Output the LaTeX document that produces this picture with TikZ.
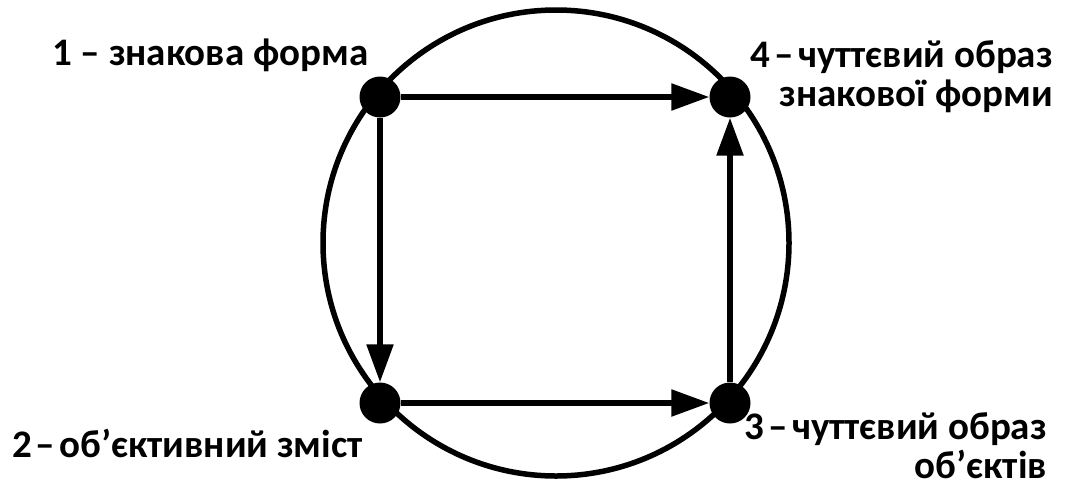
\documentclass[tikz,border=0pt]{standalone}
\usepackage{fontspec}
\setmainfont{Carlito}
\usetikzlibrary{arrows.meta}
\newcommand{\tdash}{\hspace{4pt}–\hspace{4pt}}
\begin{document}
\begin{tikzpicture}[x=1pt,y=-1pt,
  dot/.style={circle,fill=black,inner sep=0pt,minimum size=41pt},
  conn/.style={line width=5.5pt,-{Triangle[length=38pt,width=26pt]}},
  lbl/.style={font=\fontsize{39}{39}\selectfont\bfseries,inner sep=0pt,align=right}]
\useasboundingbox (0,0) rectangle (1076,501);
\draw[line width=5.5pt] (556,243) circle (233);
\node[dot] (d1) at (380,97) {};
\node[dot] (d4) at (730,97) {};
\node[dot] (d2) at (380,403) {};
\node[dot] (d3) at (730,403) {};
\draw[conn] (d1) -- (d4);
\draw[conn] (d1) -- (d2);
\draw[conn] (d2) -- (d3);
\draw[conn] (d3) -- (d4);
\node[lbl,anchor=base west] (l1) at (52,65) {1 – знакова форма};
\node[lbl,anchor=base west] (l2) at (12,457) {2\tdash об’єктивний зміст};
\node[lbl,anchor=base east] (l4) at (1053,106) {4\tdash чуттєвий образ\\знакової форми};
\node[lbl,anchor=base east] (l3) at (1047,478) {3\tdash чуттєвий образ\\об’єктів};
\end{tikzpicture}
\end{document}
